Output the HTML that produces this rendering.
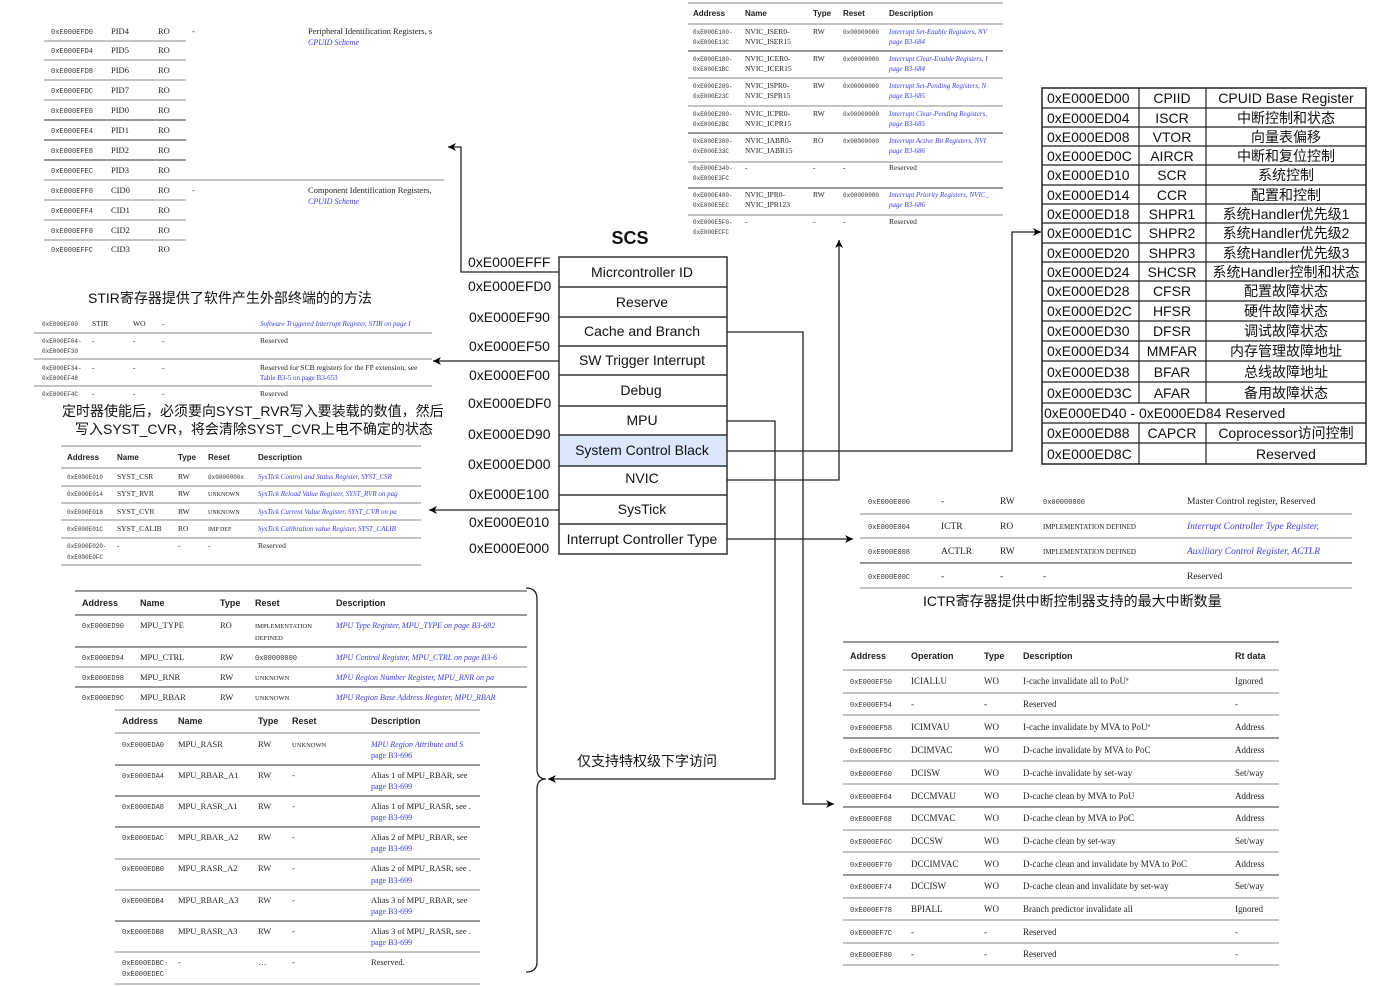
<!DOCTYPE html>
<html><head><meta charset="utf-8">
<style>
html,body{margin:0;padding:0;background:#fff;}
svg{display:block;}
.m{font-family:"Liberation Mono",monospace;font-size:7px;fill:#333;}
.s{font-family:"Liberation Serif",serif;font-size:8.5px;fill:#222;}
.sc{font-family:"Liberation Serif",serif;font-size:7px;fill:#333;}
.b{font-family:"Liberation Sans",sans-serif;font-size:9px;font-weight:bold;fill:#222;}
.l{font-family:"Liberation Serif",serif;font-size:8px;font-style:italic;fill:#3b3bf0;}
.lp{font-family:"Liberation Serif",serif;font-size:8px;fill:#3b3bf0;}
.big{font-family:"Liberation Sans","Noto Sans CJK SC",sans-serif;font-size:14px;fill:#111;}
.cn{font-family:"Liberation Sans","Noto Sans CJK SC",sans-serif;font-size:14px;fill:#111;}
.g{stroke:#888;stroke-width:1;}
.d{stroke:#333;stroke-width:1;}
.w{stroke:#222;stroke-width:1.5;fill:none;}
</style></head><body>
<svg width="1383" height="987" viewBox="0 0 1383 987" xmlns="http://www.w3.org/2000/svg">
<defs>
<marker id="ar" viewBox="0 0 10 10" refX="10" refY="5" markerWidth="8" markerHeight="8" orient="auto-start-reverse" markerUnits="userSpaceOnUse">
<path d="M0,0 L10,5 L0,10 L3,5 Z" fill="#000"/></marker>
</defs>

<!-- ========== Top-left PID/CID table ========== -->
<g>
<line class="g" x1="44" y1="41" x2="186" y2="41"/><line class="g" x1="44" y1="60" x2="186" y2="60"/>
<line class="g" x1="44" y1="80" x2="186" y2="80"/><line class="g" x1="44" y1="100" x2="186" y2="100"/>
<line class="d" x1="44" y1="120" x2="186" y2="120"/><line class="d" x1="44" y1="140" x2="186" y2="140"/>
<line class="d" x1="44" y1="160" x2="186" y2="160"/><line class="g" x1="44" y1="180" x2="444" y2="180"/>
<line class="g" x1="44" y1="200" x2="186" y2="200"/><line class="g" x1="44" y1="220" x2="186" y2="220"/>
<line class="g" x1="44" y1="240" x2="186" y2="240"/>
<text class="m" x="51" y="34">0xE000EFD0</text><text class="s" x="111" y="34">PID4</text><text class="s" x="158" y="34">RO</text><text class="s" x="192" y="34">-</text>
<text class="s" x="308" y="34">Peripheral Identification Registers, s</text><text class="l" x="308" y="45">CPUID Scheme</text>
<text class="m" x="51" y="53">0xE000EFD4</text><text class="s" x="111" y="53">PID5</text><text class="s" x="158" y="53">RO</text>
<text class="m" x="51" y="73">0xE000EFD8</text><text class="s" x="111" y="73">PID6</text><text class="s" x="158" y="73">RO</text>
<text class="m" x="51" y="93">0xE000EFDC</text><text class="s" x="111" y="93">PID7</text><text class="s" x="158" y="93">RO</text>
<text class="m" x="51" y="113">0xE000EFE0</text><text class="s" x="111" y="113">PID0</text><text class="s" x="158" y="113">RO</text>
<text class="m" x="51" y="133">0xE000EFE4</text><text class="s" x="111" y="133">PID1</text><text class="s" x="158" y="133">RO</text>
<text class="m" x="51" y="153">0xE000EFE8</text><text class="s" x="111" y="153">PID2</text><text class="s" x="158" y="153">RO</text>
<text class="m" x="51" y="173">0xE000EFEC</text><text class="s" x="111" y="173">PID3</text><text class="s" x="158" y="173">RO</text>
<text class="m" x="51" y="193">0xE000EFF0</text><text class="s" x="111" y="193">CID0</text><text class="s" x="158" y="193">RO</text><text class="s" x="192" y="193">-</text>
<text class="s" x="308" y="193">Component Identification Registers,</text><text class="l" x="308" y="204">CPUID Scheme</text>
<text class="m" x="51" y="213">0xE000EFF4</text><text class="s" x="111" y="213">CID1</text><text class="s" x="158" y="213">RO</text>
<text class="m" x="51" y="233">0xE000EFF8</text><text class="s" x="111" y="233">CID2</text><text class="s" x="158" y="233">RO</text>
<text class="m" x="51" y="252">0xE000EFFC</text><text class="s" x="111" y="252">CID3</text><text class="s" x="158" y="252">RO</text>
</g>

<!-- ========== Top-middle NVIC table ========== -->
<g>
<line class="g" x1="688" y1="3" x2="1003" y2="3"/>
<text class="b" x="693" y="16" style="font-size:8px">Address</text><text class="b" x="745" y="16" style="font-size:8px">Name</text><text class="b" x="813" y="16" style="font-size:8px">Type</text><text class="b" x="843" y="16" style="font-size:8px">Reset</text><text class="b" x="889" y="16" style="font-size:8px">Description</text>
<line class="g" x1="688" y1="24" x2="1003" y2="24"/><line class="d" x1="688" y1="51" x2="1003" y2="51"/>
<line class="g" x1="688" y1="78" x2="1003" y2="78"/><line class="g" x1="688" y1="106" x2="1003" y2="106"/>
<line class="d" x1="688" y1="133" x2="1003" y2="133"/><line class="g" x1="688" y1="162" x2="1003" y2="162"/>
<line class="d" x1="688" y1="188" x2="1003" y2="188"/><line class="g" x1="688" y1="215" x2="1003" y2="215"/>
<g class="m" style="font-size:6px">
<text x="693" y="34">0xE000E100-</text><text x="693" y="44">0xE000E13C</text>
<text x="693" y="61">0xE000E180-</text><text x="693" y="71">0xE000E1BC</text>
<text x="693" y="88">0xE000E200-</text><text x="693" y="98">0xE000E23C</text>
<text x="693" y="116">0xE000E280-</text><text x="693" y="126">0xE000E2BC</text>
<text x="693" y="143">0xE000E300-</text><text x="693" y="153">0xE000E33C</text>
<text x="693" y="170">0xE000E340-</text><text x="693" y="180">0xE000E3FC</text>
<text x="693" y="197">0xE000E400-</text><text x="693" y="207">0xE000E5EC</text>
<text x="693" y="224">0xE000E5F0-</text><text x="693" y="234">0xE000ECFC</text>
<text x="843" y="34">0x00000000</text><text x="843" y="61">0x00000000</text><text x="843" y="88">0x00000000</text>
<text x="843" y="116">0x00000000</text><text x="843" y="143">0x00000000</text><text x="843" y="197">0x00000000</text>
</g>
<g class="s" style="font-size:7.5px">
<text x="745" y="34">NVIC_ISER0-</text><text x="745" y="44">NVIC_ISER15</text><text x="813" y="34">RW</text>
<text x="745" y="61">NVIC_ICER0-</text><text x="745" y="71">NVIC_ICER15</text><text x="813" y="61">RW</text>
<text x="745" y="88">NVIC_ISPR0-</text><text x="745" y="98">NVIC_ISPR15</text><text x="813" y="88">RW</text>
<text x="745" y="116">NVIC_ICPR0-</text><text x="745" y="126">NVIC_ICPR15</text><text x="813" y="116">RW</text>
<text x="745" y="143">NVIC_IABR0-</text><text x="745" y="153">NVIC_IABR15</text><text x="813" y="143">RO</text>
<text x="745" y="170">-</text><text x="813" y="170">-</text><text x="843" y="170">-</text><text x="889" y="170">Reserved</text>
<text x="745" y="197">NVIC_IPR0-</text><text x="745" y="207">NVIC_IPR123</text><text x="813" y="197">RW</text>
<text x="745" y="224">-</text><text x="813" y="224">-</text><text x="843" y="224">-</text><text x="889" y="224">Reserved</text>
</g>
<g class="l" style="font-size:7px">
<text x="889" y="34">Interrupt Set-Enable Registers, NV</text><text class="lp" style="font-size:7px" x="889" y="44">page B3-684</text>
<text x="889" y="61">Interrupt Clear-Enable Registers, I</text><text class="lp" style="font-size:7px" x="889" y="71">page B3-684</text>
<text x="889" y="88">Interrupt Set-Pending Registers, N</text><text class="lp" style="font-size:7px" x="889" y="98">page B3-685</text>
<text x="889" y="116">Interrupt Clear-Pending Registers,</text><text class="lp" style="font-size:7px" x="889" y="126">page B3-685</text>
<text x="889" y="143">Interrupt Active Bit Registers, NVI</text><text class="lp" style="font-size:7px" x="889" y="153">page B3-686</text>
<text x="889" y="197">Interrupt Priority Registers, NVIC_</text><text class="lp" style="font-size:7px" x="889" y="207">page B3-686</text>
</g>
</g>

<!-- ========== STIR ========== -->
<text class="cn" x="88" y="303">STIR寄存器提供了软件产生外部终端的的方法</text>
<g>
<line class="g" x1="34" y1="333" x2="432" y2="333"/><line class="g" x1="34" y1="359" x2="432" y2="359"/><line class="g" x1="34" y1="386" x2="432" y2="386"/>
<g class="m" style="font-size:6px">
<text x="42" y="326">0xE000EF00</text><text x="42" y="343">0xE000EF04-</text><text x="42" y="353">0xE000EF30</text>
<text x="42" y="370">0xE000EF34-</text><text x="42" y="380">0xE000EF48</text><text x="42" y="396">0xE000EF4C</text>
</g>
<g class="s" style="font-size:7.5px">
<text x="92" y="326">STIR</text><text x="133" y="326">WO</text><text x="162" y="326">-</text>
<text x="92" y="343">-</text><text x="133" y="343">-</text><text x="162" y="343">-</text><text x="260" y="343">Reserved</text>
<text x="92" y="370">-</text><text x="133" y="370">-</text><text x="162" y="370">-</text><text x="260" y="370">Reserved for SCB registers for the FP extension, see</text>
<text x="92" y="396">-</text><text x="133" y="396">-</text><text x="162" y="396">-</text><text x="260" y="396">Reserved</text>
</g>
<text class="l" style="font-size:7px" x="260" y="326">Software Triggered Interrupt Register, STIR on page I</text>
<text class="lp" style="font-size:7px" x="260" y="380">Table B3-5 on page B3-653</text>
</g>
<text class="cn" x="62" y="416">定时器使能后，必须要向SYST_RVR写入要装载的数值，然后</text>
<text class="cn" x="75" y="434">写入SYST_CVR，将会清除SYST_CVR上电不确定的状态</text>

<!-- ========== SysTick table ========== -->
<g>
<line class="g" x1="61" y1="446" x2="421" y2="446"/>
<text class="b" x="67" y="460" style="font-size:8px">Address</text><text class="b" x="117" y="460" style="font-size:8px">Name</text><text class="b" x="178" y="460" style="font-size:8px">Type</text><text class="b" x="208" y="460" style="font-size:8px">Reset</text><text class="b" x="258" y="460" style="font-size:8px">Description</text>
<line class="g" x1="61" y1="468" x2="421" y2="468"/><line class="g" x1="61" y1="486" x2="421" y2="486"/>
<line class="g" x1="61" y1="503" x2="421" y2="503"/><line class="g" x1="61" y1="520" x2="421" y2="520"/>
<line class="g" x1="61" y1="538" x2="421" y2="538"/><line class="g" x1="61" y1="565" x2="421" y2="565"/>
<g class="m" style="font-size:6px">
<text x="67" y="479">0xE000E010</text><text x="67" y="496">0xE000E014</text><text x="67" y="514">0xE000E018</text><text x="67" y="531">0xE000E01C</text>
<text x="67" y="548">0xE000E020-</text><text x="67" y="559">0xE000E0FC</text><text x="208" y="479">0x0000000x</text>
</g>
<g class="s" style="font-size:7.5px">
<text x="117" y="479">SYST_CSR</text><text x="178" y="479">RW</text>
<text x="117" y="496">SYST_RVR</text><text x="178" y="496">RW</text><text x="208" y="496" style="font-size:6px">UNKNOWN</text>
<text x="117" y="514">SYST_CVR</text><text x="178" y="514">RW</text><text x="208" y="514" style="font-size:6px">UNKNOWN</text>
<text x="117" y="531">SYST_CALIB</text><text x="178" y="531">RO</text><text x="208" y="531" style="font-size:6px">IMP DEF</text>
<text x="117" y="548">-</text><text x="178" y="548">-</text><text x="208" y="548">-</text><text x="258" y="548">Reserved</text>
</g>
<g class="l" style="font-size:7px">
<text x="258" y="479">SysTick Control and Status Register, SYST_CSR</text>
<text x="258" y="496">SysTick Reload Value Register, SYST_RVR on pag</text>
<text x="258" y="514">SysTick Current Value Register, SYST_CVR on pa</text>
<text x="258" y="531">SysTick Calibration value Register, SYST_CALIB</text>
</g>
</g>

<!-- ========== MPU tables ========== -->
<g>
<line class="d" x1="75" y1="591" x2="527" y2="591"/>
<text class="b" x="82" y="606">Address</text><text class="b" x="140" y="606">Name</text><text class="b" x="220" y="606">Type</text><text class="b" x="255" y="606">Reset</text><text class="b" x="336" y="606">Description</text>
<line class="d" x1="75" y1="615" x2="527" y2="615"/><line class="d" x1="75" y1="647" x2="527" y2="647"/>
<line class="g" x1="75" y1="667" x2="527" y2="667"/><line class="d" x1="75" y1="687" x2="527" y2="687"/>
<g class="m"><text x="82" y="628">0xE000ED90</text><text x="82" y="660">0xE000ED94</text><text x="82" y="680">0xE000ED98</text><text x="82" y="700">0xE000ED9C</text><text x="255" y="660">0x00000000</text></g>
<g class="s">
<text x="140" y="628">MPU_TYPE</text><text x="220" y="628">RO</text><text x="255" y="628" style="font-size:6.5px">IMPLEMENTATION</text><text x="255" y="640" style="font-size:6.5px">DEFINED</text>
<text x="140" y="660">MPU_CTRL</text><text x="220" y="660">RW</text>
<text x="140" y="680">MPU_RNR</text><text x="220" y="680">RW</text><text x="255" y="680" style="font-size:6.5px">UNKNOWN</text>
<text x="140" y="700">MPU_RBAR</text><text x="220" y="700">RW</text><text x="255" y="700" style="font-size:6.5px">UNKNOWN</text>
</g>
<g class="l">
<text x="336" y="628">MPU Type Register, MPU_TYPE on page B3-692</text>
<text x="336" y="660">MPU Control Register, MPU_CTRL on page B3-6</text>
<text x="336" y="680">MPU Region Number Register, MPU_RNR on pa</text>
<text x="336" y="700">MPU Region Base Address Register, MPU_RBAR</text>
</g>

<line class="g" x1="115" y1="710" x2="480" y2="710"/>
<text class="b" x="122" y="724">Address</text><text class="b" x="178" y="724">Name</text><text class="b" x="258" y="724">Type</text><text class="b" x="292" y="724">Reset</text><text class="b" x="371" y="724">Description</text>
<line class="g" x1="115" y1="733" x2="480" y2="733"/><line class="d" x1="115" y1="765" x2="480" y2="765"/>
<line class="d" x1="115" y1="796" x2="480" y2="796"/><line class="d" x1="115" y1="827" x2="480" y2="827"/>
<line class="g" x1="115" y1="859" x2="480" y2="859"/><line class="g" x1="115" y1="890" x2="480" y2="890"/>
<line class="d" x1="115" y1="921" x2="480" y2="921"/><line class="g" x1="115" y1="952" x2="480" y2="952"/>
<line class="g" x1="115" y1="984" x2="480" y2="984"/>
<g class="m">
<text x="122" y="747">0xE000EDA0</text><text x="122" y="778">0xE000EDA4</text><text x="122" y="809">0xE000EDA8</text><text x="122" y="840">0xE000EDAC</text>
<text x="122" y="871">0xE000EDB0</text><text x="122" y="903">0xE000EDB4</text><text x="122" y="934">0xE000EDB8</text>
<text x="122" y="965">0xE000EDBC-</text><text x="122" y="976">0xE000EDEC</text>
</g>
<g class="s">
<text x="178" y="747">MPU_RASR</text><text x="258" y="747">RW</text><text x="292" y="747" style="font-size:6.5px">UNKNOWN</text>
<text x="178" y="778">MPU_RBAR_A1</text><text x="258" y="778">RW</text><text x="292" y="778">-</text><text x="371" y="778">Alias 1 of MPU_RBAR, see</text>
<text x="178" y="809">MPU_RASR_A1</text><text x="258" y="809">RW</text><text x="292" y="809">-</text><text x="371" y="809">Alias 1 of MPU_RASR, see .</text>
<text x="178" y="840">MPU_RBAR_A2</text><text x="258" y="840">RW</text><text x="292" y="840">-</text><text x="371" y="840">Alias 2 of MPU_RBAR, see</text>
<text x="178" y="871">MPU_RASR_A2</text><text x="258" y="871">RW</text><text x="292" y="871">-</text><text x="371" y="871">Alias 2 of MPU_RASR, see .</text>
<text x="178" y="903">MPU_RBAR_A3</text><text x="258" y="903">RW</text><text x="292" y="903">-</text><text x="371" y="903">Alias 3 of MPU_RBAR, see</text>
<text x="178" y="934">MPU_RASR_A3</text><text x="258" y="934">RW</text><text x="292" y="934">-</text><text x="371" y="934">Alias 3 of MPU_RASR, see .</text>
<text x="178" y="965">-</text><text x="258" y="965">…</text><text x="292" y="965">-</text><text x="371" y="965">Reserved.</text>
</g>
<g class="l"><text x="371" y="747">MPU Region Attribute and S</text></g>
<g class="lp">
<text x="371" y="758">page B3-696</text><text x="371" y="789">page B3-699</text><text x="371" y="820">page B3-699</text><text x="371" y="851">page B3-699</text>
<text x="371" y="883">page B3-699</text><text x="371" y="914">page B3-699</text><text x="371" y="945">page B3-699</text>
</g>
<path d="M526,588 Q537,588 537,599 L537,769 Q537,779 546,779 Q537,779 537,789 L537,962 Q537,972 526,972" class="w" style="stroke-width:1.3"/>
</g>
<text class="cn" x="577" y="766">仅支持特权级下字访问</text>

<!-- ========== SCS block ========== -->
<text x="630" y="244" text-anchor="middle" style="font-family:'Liberation Sans',sans-serif;font-size:18px;font-weight:bold;fill:#111">SCS</text>
<rect x="559" y="435" width="168" height="31" fill="#dae8fc"/>
<rect x="559" y="257" width="168" height="297" fill="none" stroke="#333" stroke-width="1.5"/>
<g stroke="#333" stroke-width="1.5">
<line x1="559" y1="287" x2="727" y2="287"/><line x1="559" y1="317" x2="727" y2="317"/><line x1="559" y1="346" x2="727" y2="346"/>
<line x1="559" y1="375" x2="727" y2="375"/><line x1="559" y1="406" x2="727" y2="406"/><line x1="559" y1="435" x2="727" y2="435"/>
<line x1="559" y1="466" x2="727" y2="466"/><line x1="559" y1="495" x2="727" y2="495"/><line x1="559" y1="524" x2="727" y2="524"/>
</g>
<g class="big" text-anchor="middle">
<text x="642" y="277">Micrcontroller ID</text><text x="642" y="307">Reserve</text><text x="642" y="336">Cache and Branch</text>
<text x="642" y="365">SW Trigger Interrupt</text><text x="641" y="395">Debug</text><text x="642" y="425">MPU</text>
<text x="642" y="455">System Control Black</text><text x="642" y="483">NVIC</text><text x="642" y="514">SysTick</text>
<text x="642" y="544">Interrupt Controller Type</text>
</g>
<g class="big">
<text x="468" y="267">0xE000EFFF</text><text x="468" y="291">0xE000EFD0</text><text x="469" y="322">0xE000EF90</text>
<text x="469" y="351">0xE000EF50</text><text x="469" y="380">0xE000EF00</text><text x="468" y="408">0xE000EDF0</text>
<text x="468" y="439">0xE000ED90</text><text x="468" y="469">0xE000ED00</text><text x="469" y="499">0xE000E100</text>
<text x="469" y="527">0xE000E010</text><text x="469" y="553">0xE000E000</text>
</g>

<!-- connectors -->
<g class="w" style="stroke-width:1.3">
<path d="M559,272 L461,272 L461,147 L448,147" marker-end="url(#ar)"/>
<path d="M559,361 L433,361" marker-end="url(#ar)"/>
<path d="M559,510 L429,510" marker-end="url(#ar)"/>
<path d="M727,332 L803,332 L803,804 L834,804" marker-end="url(#ar)"/>
<path d="M727,421 L775,421 L775,779 L548,779" marker-end="url(#ar)"/>
<path d="M727,451 L1012,451 L1012,232 L1041,232" marker-end="url(#ar)"/>
<path d="M727,480 L839,480 L839,240" marker-end="url(#ar)"/>
<path d="M727,539 L853,539" marker-end="url(#ar)"/>
</g>

<!-- ========== Right SCB register table ========== -->
<g>
<rect x="1042" y="88" width="324" height="376" fill="none" stroke="#222" stroke-width="1.5"/>
<g stroke="#222" stroke-width="1.2">
<line x1="1042" y1="108" x2="1366" y2="108"/><line x1="1042" y1="127" x2="1366" y2="127"/><line x1="1042" y1="146" x2="1366" y2="146"/>
<line x1="1042" y1="165" x2="1366" y2="165"/><line x1="1042" y1="185" x2="1366" y2="185"/><line x1="1042" y1="204" x2="1366" y2="204"/>
<line x1="1042" y1="223" x2="1366" y2="223"/><line x1="1042" y1="243" x2="1366" y2="243"/><line x1="1042" y1="262" x2="1366" y2="262"/>
<line x1="1042" y1="281" x2="1366" y2="281"/><line x1="1042" y1="301" x2="1366" y2="301"/><line x1="1042" y1="321" x2="1366" y2="321"/>
<line x1="1042" y1="341" x2="1366" y2="341"/><line x1="1042" y1="361" x2="1366" y2="361"/><line x1="1042" y1="382" x2="1366" y2="382"/>
<line x1="1042" y1="403" x2="1366" y2="403"/><line x1="1042" y1="423" x2="1366" y2="423"/><line x1="1042" y1="443" x2="1366" y2="443"/>
<line x1="1139" y1="88" x2="1139" y2="403"/><line x1="1206" y1="88" x2="1206" y2="403"/>
<line x1="1139" y1="423" x2="1139" y2="464"/><line x1="1206" y1="423" x2="1206" y2="464"/>
</g>
<g class="cn">
<text x="1047" y="103">0xE000ED00</text><text x="1047" y="123">0xE000ED04</text><text x="1047" y="142">0xE000ED08</text>
<text x="1047" y="161">0xE000ED0C</text><text x="1047" y="180">0xE000ED10</text><text x="1047" y="200">0xE000ED14</text>
<text x="1047" y="219">0xE000ED18</text><text x="1047" y="238">0xE000ED1C</text><text x="1047" y="258">0xE000ED20</text>
<text x="1047" y="277">0xE000ED24</text><text x="1047" y="296">0xE000ED28</text><text x="1047" y="316">0xE000ED2C</text>
<text x="1047" y="336">0xE000ED30</text><text x="1047" y="356">0xE000ED34</text><text x="1047" y="377">0xE000ED38</text>
<text x="1047" y="398">0xE000ED3C</text><text x="1044" y="418">0xE000ED40 - 0xE000ED84  Reserved</text>
<text x="1047" y="438">0xE000ED88</text><text x="1047" y="459">0xE000ED8C</text>
</g>
<g class="cn" text-anchor="middle">
<text x="1172" y="103">CPIID</text><text x="1172" y="123">ISCR</text><text x="1172" y="142">VTOR</text><text x="1172" y="161">AIRCR</text>
<text x="1172" y="180">SCR</text><text x="1172" y="200">CCR</text><text x="1172" y="219">SHPR1</text><text x="1172" y="238">SHPR2</text>
<text x="1172" y="258">SHPR3</text><text x="1172" y="277">SHCSR</text><text x="1172" y="296">CFSR</text><text x="1172" y="316">HFSR</text>
<text x="1172" y="336">DFSR</text><text x="1172" y="356">MMFAR</text><text x="1172" y="377">BFAR</text><text x="1172" y="398">AFAR</text>
<text x="1172" y="438">CAPCR</text>
<text x="1286" y="103">CPUID Base Register</text><text x="1286" y="123">中断控制和状态</text><text x="1286" y="142">向量表偏移</text>
<text x="1286" y="161">中断和复位控制</text><text x="1286" y="180">系统控制</text><text x="1286" y="200">配置和控制</text>
<text x="1286" y="219">系统Handler优先级1</text><text x="1286" y="238">系统Handler优先级2</text><text x="1286" y="258">系统Handler优先级3</text>
<text x="1286" y="277">系统Handler控制和状态</text><text x="1286" y="296">配置故障状态</text><text x="1286" y="316">硬件故障状态</text>
<text x="1286" y="336">调试故障状态</text><text x="1286" y="356">内存管理故障地址</text><text x="1286" y="377">总线故障地址</text>
<text x="1286" y="398">备用故障状态</text><text x="1286" y="438">Coprocessor访问控制</text><text x="1286" y="459">Reserved</text>
</g>
</g>

<!-- ========== ICTR table ========== -->
<g>
<line class="g" x1="860" y1="514" x2="1352" y2="514"/><line class="g" x1="860" y1="538" x2="1352" y2="538"/>
<line class="d" x1="860" y1="563" x2="1352" y2="563"/><line class="g" x1="860" y1="588" x2="1352" y2="588"/>
<g class="m"><text x="868" y="504">0xE000E000</text><text x="868" y="529">0xE000E004</text><text x="868" y="554">0xE000E008</text><text x="868" y="579">0xE000E00C</text><text x="1043" y="504">0x00000000</text></g>
<g class="s" style="font-size:9.5px">
<text x="941" y="504">-</text><text x="1000" y="504">RW</text><text x="1187" y="504">Master Control register, Reserved</text>
<text x="941" y="529">ICTR</text><text x="1000" y="529">RO</text><text x="1043" y="529" style="font-size:7px">IMPLEMENTATION DEFINED</text>
<text x="941" y="554">ACTLR</text><text x="1000" y="554">RW</text><text x="1043" y="554" style="font-size:7px">IMPLEMENTATION DEFINED</text>
<text x="941" y="579">-</text><text x="1000" y="579">-</text><text x="1043" y="579">-</text><text x="1187" y="579">Reserved</text>
</g>
<g class="l" style="font-size:9.5px"><text x="1187" y="529">Interrupt Controller Type Register,</text><text x="1187" y="554">Auxiliary Control Register, ACTLR</text></g>
</g>
<text class="cn" x="923" y="606">ICTR寄存器提供中断控制器支持的最大中断数量</text>

<!-- ========== Cache table ========== -->
<g>
<line class="d" x1="843" y1="642" x2="1279" y2="642"/>
<text class="b" x="850" y="659">Address</text><text class="b" x="911" y="659">Operation</text><text class="b" x="984" y="659">Type</text><text class="b" x="1023" y="659">Description</text><text class="b" x="1235" y="659">Rt data</text>
<g class="g">
<line x1="843" y1="670" x2="1279" y2="670"/><line x1="843" y1="693" x2="1279" y2="693"/><line x1="843" y1="715" x2="1279" y2="715"/>
<line x1="843" y1="738" x2="1279" y2="738" class="d"/><line x1="843" y1="761" x2="1279" y2="761"/><line x1="843" y1="784" x2="1279" y2="784"/>
<line x1="843" y1="807" x2="1279" y2="807" class="d"/><line x1="843" y1="830" x2="1279" y2="830"/><line x1="843" y1="852" x2="1279" y2="852"/>
<line x1="843" y1="875" x2="1279" y2="875" class="d"/><line x1="843" y1="898" x2="1279" y2="898"/><line x1="843" y1="920" x2="1279" y2="920"/>
<line x1="843" y1="943" x2="1279" y2="943"/><line x1="843" y1="965" x2="1279" y2="965"/>
</g>
<g class="m">
<text x="850" y="684">0xE000EF50</text><text x="850" y="707">0xE000EF54</text><text x="850" y="730">0xE000EF58</text><text x="850" y="753">0xE000EF5C</text>
<text x="850" y="776">0xE000EF60</text><text x="850" y="799">0xE000EF64</text><text x="850" y="821">0xE000EF68</text><text x="850" y="844">0xE000EF6C</text>
<text x="850" y="867">0xE000EF70</text><text x="850" y="889">0xE000EF74</text><text x="850" y="912">0xE000EF78</text><text x="850" y="935">0xE000EF7C</text>
<text x="850" y="957">0xE000EF80</text>
</g>
<g class="s" style="font-size:9px">
<text x="911" y="684">ICIALLU</text><text x="984" y="684">WO</text><text x="1023" y="684">I-cache invalidate all to PoUª</text><text x="1235" y="684">Ignored</text>
<text x="911" y="707">-</text><text x="984" y="707">-</text><text x="1023" y="707">Reserved</text><text x="1235" y="707">-</text>
<text x="911" y="730">ICIMVAU</text><text x="984" y="730">WO</text><text x="1023" y="730">I-cache invalidate by MVA to PoUª</text><text x="1235" y="730">Address</text>
<text x="911" y="753">DCIMVAC</text><text x="984" y="753">WO</text><text x="1023" y="753">D-cache invalidate by MVA to PoC</text><text x="1235" y="753">Address</text>
<text x="911" y="776">DCISW</text><text x="984" y="776">WO</text><text x="1023" y="776">D-cache invalidate by set-way</text><text x="1235" y="776">Set/way</text>
<text x="911" y="799">DCCMVAU</text><text x="984" y="799">WO</text><text x="1023" y="799">D-cache clean by MVA to PoU</text><text x="1235" y="799">Address</text>
<text x="911" y="821">DCCMVAC</text><text x="984" y="821">WO</text><text x="1023" y="821">D-cache clean by MVA to PoC</text><text x="1235" y="821">Address</text>
<text x="911" y="844">DCCSW</text><text x="984" y="844">WO</text><text x="1023" y="844">D-cache clean by set-way</text><text x="1235" y="844">Set/way</text>
<text x="911" y="867">DCCIMVAC</text><text x="984" y="867">WO</text><text x="1023" y="867">D-cache clean and invalidate by MVA to PoC</text><text x="1235" y="867">Address</text>
<text x="911" y="889">DCCISW</text><text x="984" y="889">WO</text><text x="1023" y="889">D-cache clean and invalidate by set-way</text><text x="1235" y="889">Set/way</text>
<text x="911" y="912">BPIALL</text><text x="984" y="912">WO</text><text x="1023" y="912">Branch predictor invalidate all</text><text x="1235" y="912">Ignored</text>
<text x="911" y="935">-</text><text x="984" y="935">-</text><text x="1023" y="935">Reserved</text><text x="1235" y="935">-</text>
<text x="911" y="957">-</text><text x="984" y="957">-</text><text x="1023" y="957">Reserved</text><text x="1235" y="957">-</text>
</g>
</g>
</svg>
</body></html>
